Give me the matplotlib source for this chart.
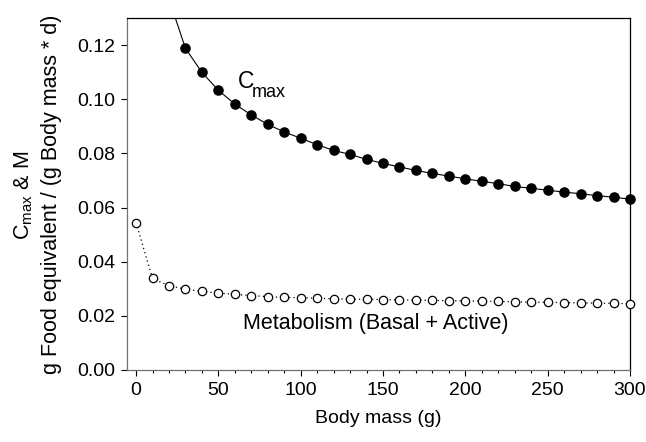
import numpy as np
import matplotlib
matplotlib.use("Agg")
import matplotlib.pyplot as plt
from matplotlib.ticker import MultipleLocator

plt.rcParams['font.family'] = ['Liberation Sans', 'DejaVu Sans']
plt.rcParams['mathtext.default'] = 'regular'

# values
mass_cmax = [20, 30, 40, 50, 60, 70, 80, 90, 100, 110, 120, 130, 140, 150, 160,
             170, 180, 190, 200, 210, 220, 230, 240, 250, 260, 270, 280, 290, 300]
cmax = [0.137, 0.1188, 0.1099, 0.1033, 0.0982, 0.0942, 0.0907, 0.0879, 0.0856,
        0.0832, 0.0811, 0.0796, 0.0778, 0.0763, 0.0750, 0.0737, 0.0726, 0.0716,
        0.0706, 0.0697, 0.0688, 0.0678, 0.0671, 0.0664, 0.0657, 0.0651, 0.0644,
        0.0638, 0.0631]

mass_met = [0, 10, 20, 30, 40, 50, 60, 70, 80, 90, 100, 110, 120, 130, 140, 150,
            160, 170, 180, 190, 200, 210, 220, 230, 240, 250, 260, 270, 280, 290, 300]
metab = [0.0544, 0.0338, 0.0311, 0.0299, 0.0290, 0.0284, 0.0279, 0.0275, 0.0271,
         0.0268, 0.0267, 0.0265, 0.0263, 0.0262, 0.0261, 0.0260, 0.0259, 0.0258,
         0.0257, 0.0256, 0.0255, 0.0254, 0.0253, 0.0252, 0.0251, 0.0250, 0.0249,
         0.0248, 0.0247, 0.0246, 0.0245]

y_top = 0.13

fig = plt.figure(figsize=(6.46, 4.42), dpi=100)
ax = fig.add_axes([0.1966, 0.1629, 0.7786, 0.7964])

# Cmax: line clipped, markers drawn fully (only those inside the range)
ax.plot(mass_cmax, cmax, color='black', lw=0.8)
mc = np.array(mass_cmax)
cv = np.array(cmax)
keep = cv <= y_top
ax.plot(mc[keep], cv[keep], ls='none', marker='o', ms=6.6, mfc='black',
        mec='black', clip_on=False, zorder=3)

# Metabolism
ax.plot(mass_met, metab, color='black', lw=0.9, ls=(0, (1, 2.5)))
ax.plot(mass_met, metab, ls='none', marker='o', ms=6.0, mfc='white',
        mec='black', mew=0.9, clip_on=False, zorder=3)

ax.set_xlim(-5.5, 300)
ax.set_ylim(0, y_top)
ax.xaxis.set_major_locator(MultipleLocator(50))
ax.xaxis.set_minor_locator(MultipleLocator(10))
ax.yaxis.set_major_locator(MultipleLocator(0.02))
ax.yaxis.set_major_formatter(plt.FormatStrFormatter('%.2f'))
ax.tick_params(axis='both', which='major', direction='out', length=4.5,
               width=0.8, labelsize=14, pad=4)
ax.tick_params(axis='x', which='minor', direction='out', length=2.5, width=0.8)

for s in ['left', 'bottom']:
    ax.spines[s].set_color('#707070')
for s in ax.spines.values():
    s.set_linewidth(0.9)

ax.text(61.6, 0.1041, 'C', fontsize=16.5, ha='left', va='baseline')
ax.text(70.2, 0.1010, 'max', fontsize=13, ha='left', va='baseline')
ax.text(65.2, 0.0151, 'Metabolism (Basal + Active)', fontsize=15.5,
        ha='left', va='baseline')

ax.set_xlabel('Body mass (g)', fontsize=14, labelpad=8)
fig.text(24 / 646, 1 - 195 / 442, r'$C_{max}$ & M', rotation=90, fontsize=15.5,
         ha='center', va='center')
fig.text(52 / 646, 1 - 194 / 442, 'g Food equivalent / (g Body mass * d)',
         rotation=90, fontsize=15.5, ha='center', va='center')

fig.savefig('out.png', dpi=100)
